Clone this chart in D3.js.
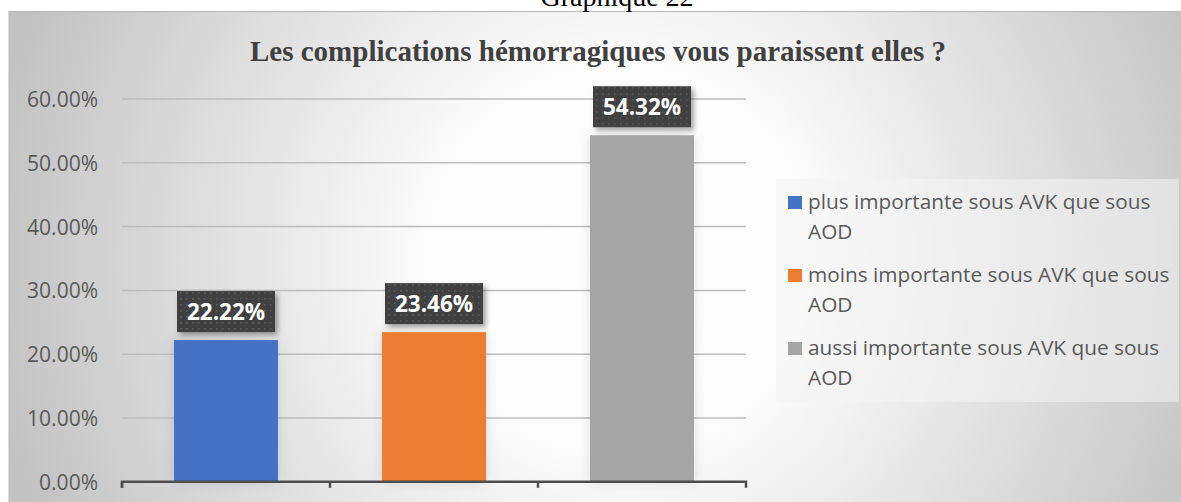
<!DOCTYPE html>
<html><head><meta charset="utf-8">
<script src="https://cdn.jsdelivr.net/npm/d3@7"></script>
<style>html,body{margin:0;padding:0;background:#fff;overflow:hidden}</style>
</head><body>
<script>
const pageTitle = "Graphique 22";
const chartTitle = "Les complications hémorragiques vous paraissent elles ?";
const categories = ["plus importante sous AVK que sous AOD", "moins importante sous AVK que sous AOD", "aussi importante sous AVK que sous AOD"];
const legendLines = [["plus importante sous AVK que sous", "AOD"], ["moins importante sous AVK que sous", "AOD"], ["aussi importante sous AVK que sous", "AOD"]];
const values = [22.22, 23.46, 54.32];
const colors = ["#4472C4", "#ED7D31", "#A5A5A5"];
const yTicks = [0, 10, 20, 30, 40, 50, 60];

const W = 1181, H = 502;
const svg = d3.select("body").append("svg").attr("width", W).attr("height", H);
const defs = svg.append("defs");

const grad = defs.append("radialGradient").attr("id", "bg")
  .attr("gradientUnits", "userSpaceOnUse").attr("cx", 620).attr("cy", 260).attr("r", 640);
grad.append("stop").attr("offset", 0).attr("stop-color", "#ffffff");
grad.append("stop").attr("offset", 0.3).attr("stop-color", "#fcfcfc");
grad.append("stop").attr("offset", 1).attr("stop-color", "#c2c2c2");

const pat = defs.append("pattern").attr("id", "dots").attr("patternUnits", "userSpaceOnUse")
  .attr("width", 6).attr("height", 6);
pat.append("rect").attr("width", 6).attr("height", 6).attr("fill", "#3f3f3f");
pat.append("rect").attr("x", 2).attr("y", 2).attr("width", 1.6).attr("height", 1.6).attr("fill", "#5e5e5e");

const sh = defs.append("filter").attr("id", "shadow").attr("x", "-20%").attr("y", "-20%").attr("width", "150%").attr("height", "160%");
sh.append("feDropShadow").attr("dx", 3).attr("dy", 3).attr("stdDeviation", 2.5).attr("flood-color", "#000").attr("flood-opacity", 0.35);
const bsh = defs.append("filter").attr("id", "barshadow").attr("x", "-30%").attr("y", "-10%").attr("width", "160%").attr("height", "120%");
bsh.append("feDropShadow").attr("dx", 0).attr("dy", 0).attr("stdDeviation", 6).attr("flood-color", "#000").attr("flood-opacity", 0.12);

// chart area background
svg.append("rect").attr("x", 9).attr("y", 11.5).attr("width", W - 9 + 2).attr("height", H)
  .attr("fill", "url(#bg)").attr("stroke", "#b8b8b8").attr("stroke-width", 1);

// page title (partly above the page top, as in the reference)
svg.append("text").attr("x", 617).attr("y", 6).attr("text-anchor", "middle")
  .attr("font-family", "Liberation Serif, serif").attr("font-size", 28).attr("fill", "#000").text(pageTitle);

// chart title
svg.append("text").attr("x", 598).attr("y", 61).attr("text-anchor", "middle")
  .attr("font-family", "Liberation Serif, serif").attr("font-weight", "bold").attr("font-size", 29)
  .attr("fill", "#404040").text(chartTitle);

const y = d3.scaleLinear().domain([0, 60]).range([481.8, 99]);
const x = d3.scaleBand().domain(categories).range([122, 746]).paddingInner(0.5).paddingOuter(0.25);

// gridlines
svg.append("g").selectAll("line").data(yTicks.filter(t => t > 0)).join("line")
  .attr("x1", 122).attr("x2", 746).attr("y1", d => y(d)).attr("y2", d => y(d))
  .attr("stroke", "#bdbdbd").attr("stroke-width", 1.5);

// y axis labels
const yAxis = d3.axisLeft(y).tickValues(yTicks).tickSize(0).tickPadding(0)
  .tickFormat(d => d.toFixed(2) + "%");
const ya = svg.append("g").attr("transform", "translate(98,0)").call(yAxis);
ya.select(".domain").remove();
ya.selectAll("text").attr("font-family", "Open Sans, sans-serif").attr("font-size", 21)
  .attr("fill", "#595959").attr("dy", "0.36em");

// bars
svg.append("g").selectAll("rect").data(values).join("rect")
  .attr("x", (d, i) => x(categories[i])).attr("width", x.bandwidth())
  .attr("y", d => y(d)).attr("height", d => y(0) - y(d))
  .attr("fill", (d, i) => colors[i]).attr("filter", "url(#barshadow)");

// x axis
const xAxis = d3.axisBottom(x).tickSize(0).tickFormat("");
const xa = svg.append("g").attr("transform", `translate(0,${y(0)})`).call(xAxis);
xa.select(".domain").attr("d", `M122,6V0H746V6`).attr("stroke", "#4d4d4d").attr("stroke-width", 2.5).attr("fill", "none");
const bounds = [122, ...categories.slice(1).map(c => x(c) - x.step() * x.paddingInner() / 2)];
xa.selectAll(".bt").data(bounds).join("line").attr("class", "bt")
  .attr("x1", d => d).attr("x2", d => d).attr("y1", 0).attr("y2", 6)
  .attr("stroke", "#4d4d4d").attr("stroke-width", 2.5);

// data labels
const lbW = 98, lbH = 41;
const lg = svg.append("g").selectAll("g").data(values).join("g")
  .attr("transform", (d, i) => `translate(${x(categories[i]) + x.bandwidth() / 2},${y(d) - 8})`);
lg.append("rect").attr("x", -lbW / 2).attr("y", -lbH).attr("width", lbW).attr("height", lbH)
  .attr("fill", "url(#dots)").attr("filter", "url(#shadow)");
lg.append("text").attr("x", 0).attr("y", -lbH / 2).attr("dy", "0.36em").attr("text-anchor", "middle")
  .attr("font-family", "Open Sans, sans-serif").attr("font-weight", "bold").attr("font-size", 22.5)
  .attr("fill", "#fff").text(d => d.toFixed(2) + "%");

// legend
svg.append("rect").attr("x", 776).attr("y", 179).attr("width", 403).attr("height", 223)
  .attr("fill", "#f4f4f4").attr("fill-opacity", 0.55);
const leg = svg.append("g").selectAll("g").data(legendLines).join("g")
  .attr("transform", (d, i) => `translate(788,${209 + i * 73})`);
leg.append("rect").attr("x", 0).attr("y", -13).attr("width", 14).attr("height", 13)
  .attr("fill", (d, i) => colors[i]);
leg.append("text").attr("font-family", "Open Sans, sans-serif").attr("font-size", 20.8)
  .attr("fill", "#595959")
  .selectAll("tspan").data(d => d).join("tspan")
  .attr("x", 20).attr("y", (d, j) => j * 30).text(d => d);
</script>
</body></html>
